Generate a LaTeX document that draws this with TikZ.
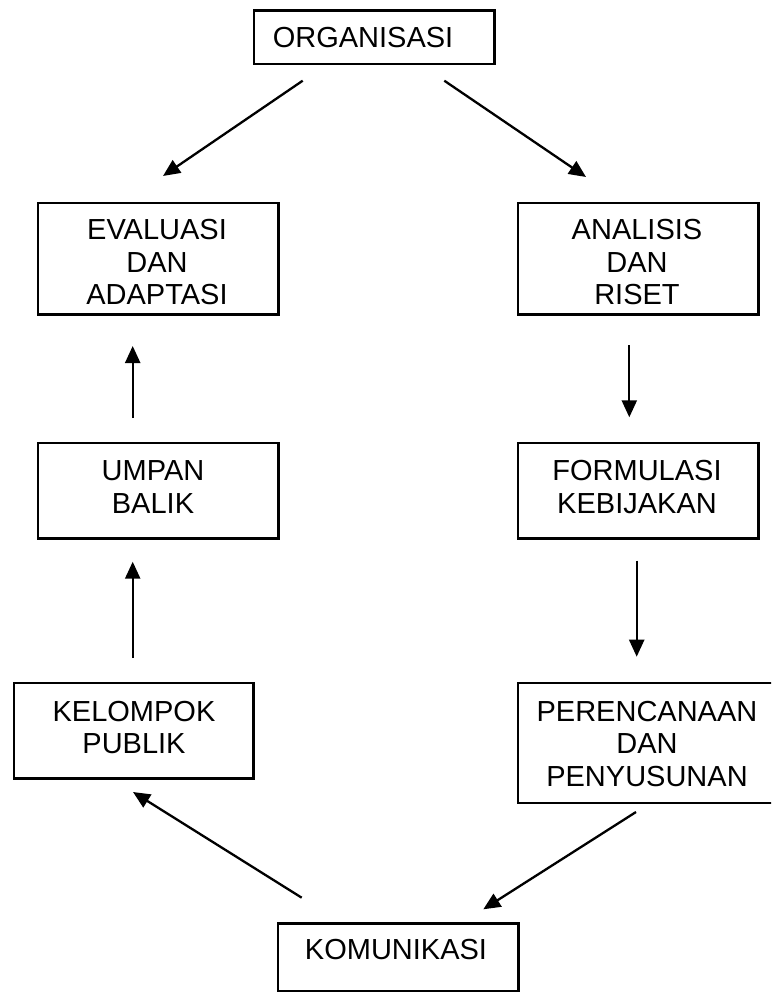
\documentclass[tikz,border=0pt]{standalone}
\usepackage{fontspec}
\setmainfont{Liberation Sans}
\usetikzlibrary{arrows.meta}
\begin{document}
\begin{tikzpicture}[x=1pt,y=-1pt,
  box/.style={draw=black,line width=2.3pt,rectangle,inner sep=0pt,anchor=north west},
  lbl/.style={align=center,inner sep=0pt,font=\fontsize{29}{32.5}\selectfont},
  conn/.style={line width=2.3pt,-{Triangle[length=17pt,width=15pt]}}]
\useasboundingbox (0,0) rectangle (771,992);
\clip (0,0) rectangle (771,992);
% boxes
\node[box,minimum width=240.6pt,minimum height=53.4pt] (org) at (252.7,9.3) {};
\node[box,minimum width=240.6pt,minimum height=111.6pt] (eval) at (36.7,201.7) {};
\node[box,minimum width=240.6pt,minimum height=111.6pt] (anal) at (516.7,201.7) {};
\node[box,minimum width=240.6pt,minimum height=95.6pt] (umpan) at (36.7,441.7) {};
\node[box,minimum width=240.6pt,minimum height=95.6pt] (form) at (516.7,441.7) {};
\node[box,minimum width=239.6pt,minimum height=95.6pt] (kel) at (12.7,681.7) {};
\node[box,minimum width=262pt,minimum height=120pt] (peren) at (516.7,681.7) {};
\node[box,minimum width=240.6pt,minimum height=67.7pt] (kom) at (276.7,922.3) {};
% labels
\node[lbl] (torg) at (363,37.5) {ORGANISASI};
\node[lbl] (teval) at (157,262.5) {EVALUASI\\DAN\\ADAPTASI};
\node[lbl] (tanal) at (637,262.5) {ANALISIS\\DAN\\RISET};
\node[lbl] (tumpan) at (153,487) {UMPAN\\BALIK};
\node[lbl] (tform) at (637,487) {FORMULASI\\KEBIJAKAN};
\node[lbl] (tkel) at (134,727.5) {KELOMPOK\\PUBLIK};
\node[lbl] (tperen) at (647,744) {PERENCANAAN\\DAN\\PENYUSUNAN};
\node[lbl] (tkom) at (396,949.7) {KOMUNIKASI};
% connector end points
\coordinate (a1) at (302.7,80.7);  \coordinate (a2) at (163,176);
\coordinate (b1) at (444.3,80.7);  \coordinate (b2) at (586,177);
\coordinate (c1) at (629.3,345);   \coordinate (c2) at (629.3,417.3);
\coordinate (d1) at (636.7,560.7); \coordinate (d2) at (636.7,656.7);
\coordinate (e1) at (636,812);     \coordinate (e2) at (483.3,909.3);
\coordinate (f1) at (301.7,897.7); \coordinate (f2) at (133,792);
\coordinate (g1) at (132.7,658);   \coordinate (g2) at (132.7,561.7);
\coordinate (h1) at (132.7,418);   \coordinate (h2) at (132.7,346);
% connectors
\draw[conn] (a1) -- (a2);
\draw[conn] (b1) -- (b2);
\draw[conn] (c1) -- (c2);
\draw[conn] (d1) -- (d2);
\draw[conn] (e1) -- (e2);
\draw[conn] (f1) -- (f2);
\draw[conn] (g1) -- (g2);
\draw[conn] (h1) -- (h2);
\end{tikzpicture}
\end{document}
